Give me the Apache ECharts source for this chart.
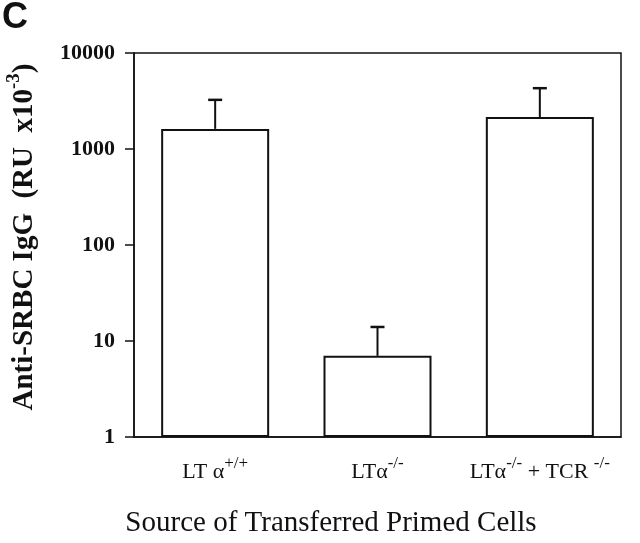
<!DOCTYPE html>
<html>
<head>
<meta charset="utf-8">
<script src="https://cdn.jsdelivr.net/npm/echarts@6/dist/echarts.min.js"></script>
<style>
html,body{margin:0;padding:0;background:#fff;}
#chart{width:640px;height:543px;}
</style>
</head>
<body>
<div id="chart"></div>
<script>
var categories = ['LTα+/+', 'LTα-/-', 'LTα-/- + TCR-/-'];
var labelRich = ['{m|LT α}{s|+/+}', '{m|LTα}{s|-/-}', '{m|LTα}{s|-/-}{m| + TCR }{s|-/-}'];
var means = [1620, 7, 2150];
var upper = [3250, 14, 4300];
var yTicks = [1, 10, 100, 1000, 10000];
var yTitle = '{a|Anti-SRBC IgG  (RU  x10}{s|-3}{a|)}';
var xTitle = 'Source of Transferred Primed Cells';

var serif = '"Liberation Serif", "Times New Roman", serif';
var chart = echarts.init(document.getElementById('chart'));
var errData = means.map(function (m, i) { return [i, m, upper[i]]; });

chart.setOption({
  animation: false,
  backgroundColor: '#fff',
  grid: { left: 134, right: 19, top: 53, bottom: 106, show: true, borderColor: '#111', borderWidth: 1.5, backgroundColor: 'transparent', outerBoundsMode: 'none', containLabel: false },
  graphic: [{
    type: 'text', left: 2, top: 0,
    style: { text: 'C', font: 'bold 36px "Liberation Sans", Arial, sans-serif', fill: '#111' }
  }, {
    type: 'text', x: 331, y: 523,
    style: { text: xTitle, x: 0, y: 0, align: 'center', verticalAlign: 'middle', font: '29px ' + serif, fill: '#111' }
  }, {
    type: 'text', x: 22, y: 237, rotation: Math.PI / 2,
    style: {
      text: yTitle, x: 0, y: 0, align: 'center', verticalAlign: 'middle',
      rich: {
        a: { fontFamily: serif, fontWeight: 'bold', fontSize: 29, fill: '#111', verticalAlign: 'bottom', lineHeight: 34 },
        s: { fontFamily: serif, fontWeight: 'bold', fontSize: 19, fill: '#111', verticalAlign: 'top', lineHeight: 34, padding: [0, 0, 12, 0] }
      }
    }
  }],
  xAxis: {
    type: 'category',
    data: categories,
    axisLine: { lineStyle: { color: '#111', width: 1.5 } },
    axisTick: { show: false },
    axisLabel: {
      margin: 18,
      interval: 0,
      hideOverlap: false,
      formatter: function (v, i) { return labelRich[i]; },
      rich: {
        m: { fontFamily: serif, fontSize: 22, color: '#111', verticalAlign: 'bottom', lineHeight: 28 },
        s: { fontFamily: serif, fontSize: 17, color: '#111', verticalAlign: 'top', lineHeight: 28, padding: [0, 0, 11, 0] }
      }
    }
  },
  yAxis: {
    type: 'log',
    logBase: 10,
    min: 1,
    max: 10000,
    splitLine: { show: false },
    axisLine: { show: true, lineStyle: { color: '#111', width: 1.5 } },
    axisTick: { show: true, length: 9, lineStyle: { color: '#111', width: 1.5 } },
    minorTick: { show: false },
    axisLabel: {
      margin: 19,
      fontFamily: serif, fontWeight: 'bold', fontSize: 22, color: '#111',
      formatter: function (v) { return yTicks.indexOf(v) >= 0 ? String(v) : ''; }
    }
  },
  series: [{
    type: 'bar',
    data: means,
    barWidth: 108,
    itemStyle: { color: '#fff', borderColor: '#111', borderWidth: 2 }
  }, {
    type: 'custom',
    data: errData,
    z: 5,
    renderItem: function (params, api) {
      var top = api.coord([api.value(0), api.value(1)]);
      var cap = api.coord([api.value(0), api.value(2)]);
      return {
        type: 'group',
        children: [
          { type: 'line', shape: { x1: top[0], y1: top[1], x2: cap[0], y2: cap[1] }, style: { stroke: '#111', lineWidth: 2 } },
          { type: 'line', shape: { x1: cap[0] - 7, y1: cap[1], x2: cap[0] + 7, y2: cap[1] }, style: { stroke: '#111', lineWidth: 2.5 } }
        ]
      };
    }
  }]
});
</script>
</body>
</html>
